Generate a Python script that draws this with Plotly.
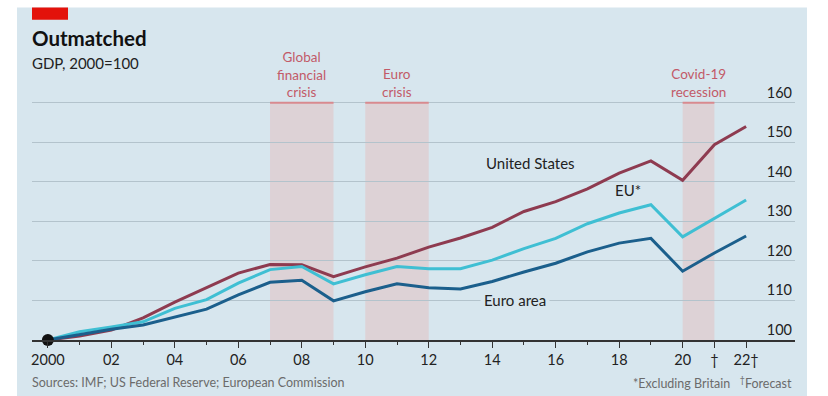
import plotly.graph_objects as go

years = list(range(2000, 2023))
us = [100, 101, 102.5, 105.6, 109.6, 113.2, 116.9, 119.1, 119.0, 116.0, 118.5, 120.7, 123.5, 125.8, 128.5, 132.5, 135.0, 138.2, 142.2, 145.3, 140.4, 149.4, 154.0]
eu = [100, 102.1, 103.3, 104.6, 108.0, 110.2, 114.4, 117.8, 118.6, 114.2, 116.5, 118.6, 118.0, 118.0, 120.2, 123.1, 125.7, 129.4, 132.1, 134.2, 126.1, 130.8, 135.4]
ea = [100, 101.3, 102.7, 103.8, 105.8, 107.8, 111.4, 114.6, 115.1, 109.9, 112.2, 114.2, 113.2, 112.9, 114.8, 117.2, 119.4, 122.3, 124.5, 125.7, 117.4, 122.0, 126.3]

tick_years = [2000, 2002, 2004, 2006, 2008, 2010, 2012, 2014, 2016, 2018, 2020, 2021, 2022]
tick_text = ["2000", "02", "04", "06", "08", "10", "12", "14", "16", "18", "20", "†", "22†"]
y_ticks = [100, 110, 120, 130, 140, 150, 160]

crises = [(2007, 2009, "Global<br>financial<br>crisis"), (2010, 2012, "Euro<br>crisis"), (2020, 2021, "Covid-19<br>recession")]

US_C = "#8e3b50"
EU_C = "#3fbfd3"
EA_C = "#1b5f8c"
BG = "#d7e6ee"
FONT = "Lato"

W, H = 828, 396
Y_MIN, Y_MAX = 100, 166
L, R, B = 32, 33, 56
PX_PER_UNIT = 3.95
ph = (Y_MAX - Y_MIN) * PX_PER_UNIT
T = H - B - ph
pw = W - L - R

def px(x):
    return (x - L) / pw

def py(y):
    return (H - B - y) / ph

fig = go.Figure()
fig.add_trace(go.Scatter(x=years, y=us, mode="lines", line=dict(color=US_C, width=3), name="United States"))
fig.add_trace(go.Scatter(x=years, y=eu, mode="lines", line=dict(color=EU_C, width=3), name="EU*"))
fig.add_trace(go.Scatter(x=years, y=ea, mode="lines", line=dict(color=EA_C, width=3), name="Euro area"))
fig.add_trace(go.Scatter(x=[years[0]], y=[us[0]], mode="markers", marker=dict(color="#111", size=12), cliponaxis=False))

shapes = [dict(type="rect", xref="paper", yref="paper", x0=px(17), x1=px(807), y0=py(396), y1=py(8),
               fillcolor=BG, line=dict(width=0), layer="below"),
          dict(type="rect", xref="paper", yref="paper", x0=px(32), x1=px(68), y0=py(20), y1=py(8),
               fillcolor="#e3120b", line=dict(width=0), layer="above")]
annotations = []
top = y_ticks[-1]
for x0, x1, label in crises:
    shapes.append(dict(type="rect", xref="x", yref="y", x0=x0, x1=x1, y0=Y_MIN, y1=top,
                       fillcolor="#ddd2d6", line=dict(width=0), layer="below"))
    shapes.append(dict(type="line", xref="x", yref="y", x0=x0, x1=x1, y0=top, y1=top,
                       line=dict(color="#d88a8f", width=2), layer="above"))
    annotations.append(dict(x=(x0 + x1) / 2, xref="x", y=top, yref="y", text=label, showarrow=False,
                            xanchor="center", yanchor="bottom", yshift=2, borderpad=0,
                            font=dict(family=FONT, size=13.5, color="#c25a68")))

annotations += [
    dict(x=px(30), y=py(38), xref="paper", yref="paper", text="<b>Outmatched</b>", showarrow=False,
         xanchor="left", yanchor="middle", font=dict(family=FONT, size=20.5, color="#111")),
    dict(x=px(30), y=py(63), xref="paper", yref="paper", text="GDP, 2000=100", showarrow=False,
         xanchor="left", yanchor="middle", font=dict(family=FONT, size=15, color="#222")),
    dict(x=px(30), y=py(382), xref="paper", yref="paper", text="Sources: IMF; US Federal Reserve; European Commission",
         showarrow=False, xanchor="left", yanchor="middle", font=dict(family=FONT, size=12.5, color="#6b6b6b")),
    dict(x=px(794), y=py(382), xref="paper", yref="paper", text="*Excluding Britain   <sup>†</sup>Forecast",
         showarrow=False, xanchor="right", yanchor="middle", font=dict(family=FONT, size=12.5, color="#6b6b6b")),
    dict(x=2015.2, y=144.8, text="United States", showarrow=False, font=dict(family=FONT, size=15, color="#222")),
    dict(x=2018.27, y=138, text="EU*", showarrow=False, font=dict(family=FONT, size=15, color="#222")),
    dict(x=2014.72, y=110.1, text="Euro area", showarrow=False, bgcolor=BG, borderpad=3,
         font=dict(family=FONT, size=15, color="#222")),
]

fig.update_layout(
    width=W, height=H, margin=dict(l=L, r=R, t=T, b=B),
    paper_bgcolor="white", plot_bgcolor="rgba(0,0,0,0)",
    showlegend=False, shapes=shapes, annotations=annotations,
    font=dict(family=FONT, size=14, color="#222"),
    xaxis=dict(range=[1999.5, 2023.54], tickmode="array", tickvals=tick_years, ticktext=tick_text,
               ticks="outside", ticklen=6, tickwidth=1.2, tickcolor="#333",
               minor=dict(tickmode="array", tickvals=list(range(2001, 2022, 2)), ticks="outside", ticklen=3, tickwidth=1.2, tickcolor="#333"),
               showline=True, linecolor="#333", linewidth=1.5, showgrid=False, zeroline=False,
               tickfont=dict(family=FONT, size=14.5, color="#222")),
    yaxis=dict(range=[Y_MIN, Y_MAX], tickvals=y_ticks, side="right", ticklabelposition="inside top",
               showgrid=True, gridcolor="#b3c3cc", gridwidth=1, zeroline=False, ticks="",
               tickfont=dict(family=FONT, size=14.5, color="#222")),
)

fig.write_html("out.html")
